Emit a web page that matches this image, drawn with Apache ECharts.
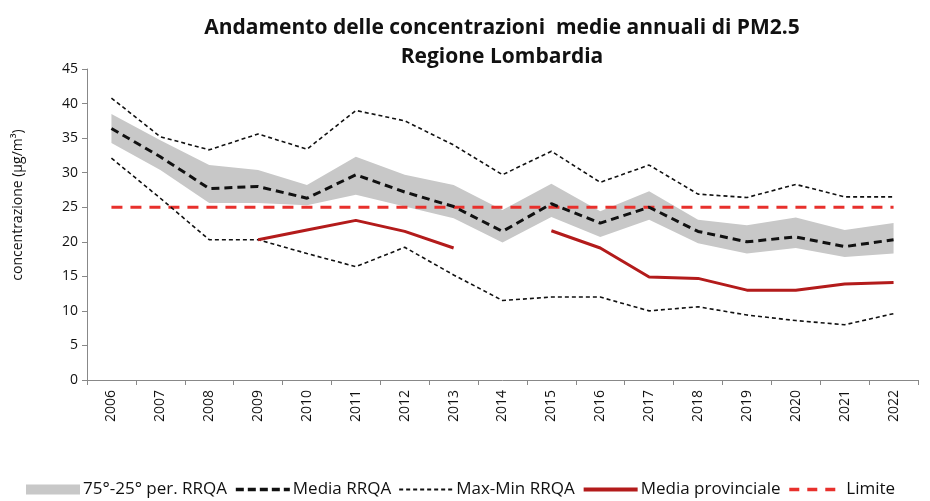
<!DOCTYPE html>
<html>
<head>
<meta charset="utf-8">
<script src="https://cdn.jsdelivr.net/npm/echarts@6/dist/echarts.min.js"></script>
<style>
  html, body { margin: 0; padding: 0; background: #fff; }
  #chart { width: 930px; height: 501px; }
</style>
</head>
<body>
<div id="chart"></div>
<script>
var years = ['2006','2007','2008','2009','2010','2011','2012','2013','2014','2015','2016','2017','2018','2019','2020','2021','2022'];
var p25 = [34.3, 30.4, 25.6, 25.6, 25.3, 26.8, 25.1, 23.4, 19.9, 23.6, 20.7, 23.2, 19.8, 18.3, 19.1, 17.8, 18.3];
var p75 = [38.5, 34.7, 31.1, 30.4, 28.2, 32.3, 29.7, 28.2, 24.6, 28.4, 24.4, 27.3, 23.2, 22.4, 23.5, 21.7, 22.7];
var mediaRRQA = [36.4, 32.3, 27.7, 28.0, 26.3, 29.7, 27.2, 25.1, 21.5, 25.5, 22.7, 25.0, 21.5, 20.0, 20.7, 19.3, 20.3];
var maxRRQA = [40.8, 35.2, 33.3, 35.6, 33.4, 39.0, 37.5, 34.0, 29.7, 33.1, 28.6, 31.1, 26.9, 26.4, 28.3, 26.5, 26.5];
var minRRQA = [32.1, 26.3, 20.3, 20.3, 18.3, 16.4, 19.2, 15.2, 11.5, 12.0, 12.0, 10.0, 10.6, 9.4, 8.6, 8.0, 9.6];
var mediaProv = [null, null, null, 20.3, 21.7, 23.1, 21.5, 19.1, null, 21.6, 19.1, 14.9, 14.7, 13.0, 13.0, 13.9, 14.1];
var limite = [25, 25, 25, 25, 25, 25, 25, 25, 25, 25, 25, 25, 25, 25, 25, 25, 25];

var font = 'Open Sans';
var chart = echarts.init(document.getElementById('chart'));
var bandDelta = p75.map(function (v, i) { return +(v - p25[i]).toFixed(2); });
var noSymbol = { opacity: 0 };

var option = {
  animation: false,
  textStyle: { fontFamily: font },
  title: {
    text: 'Andamento delle concentrazioni  medie annuali di PM2.5\nRegione Lombardia',
    left: 497,
    textAlign: 'center',
    top: 9,
    textStyle: { fontSize: 21, fontWeight: 'bold', color: '#111', lineHeight: 29, fontFamily: font }
  },
  graphic: [{
    type: 'text',
    x: 18, y: 205,
    rotation: Math.PI / 2,
    style: {
      text: 'concentrazione (µg/m³)',
      fontFamily: font, fontSize: 14, fill: '#111',
      align: 'center', verticalAlign: 'middle'
    }
  }],
  legend: {
    top: 481,
    left: 26,
    width: 904,
    padding: 0,
    itemGap: 7,
    itemWidth: 54,
    itemHeight: 10,
    textStyle: { fontSize: 17, color: '#111', fontFamily: font, padding: [0, 0, 0, -2] },
    data: [
      { name: '75°-25° per. RRQA', icon: 'rect' },
      { name: 'Media RRQA', itemStyle: noSymbol, lineStyle: { width: 3.5, type: [8, 4] } },
      { name: 'Max-Min RRQA', itemStyle: noSymbol, lineStyle: { width: 2, type: [4, 3] } },
      { name: 'Media provinciale', itemStyle: noSymbol, lineStyle: { width: 4 } },
      { name: 'Limite', itemStyle: noSymbol, lineStyle: { width: 3.5, type: [10, 8] } }
    ]
  },
  grid: { left: 87, right: 12, top: 69, bottom: 121 },
  xAxis: {
    type: 'category',
    data: years,
    boundaryGap: true,
    axisLine: { lineStyle: { color: '#888' } },
    axisTick: { show: true, lineStyle: { color: '#888' }, length: 5 },
    axisLabel: { rotate: 90, fontSize: 14, color: '#111', margin: 10 }
  },
  yAxis: {
    type: 'value',
    min: 0, max: 45, interval: 5,
    splitLine: { show: false },
    axisLine: { show: true, lineStyle: { color: '#888' } },
    axisTick: { show: true, inside: false, length: 5, lineStyle: { color: '#888' } },
    axisLabel: { fontSize: 14, color: '#111', margin: 9 }
  },
  series: [
    {
      name: 'base', type: 'line', stack: 'band', data: p25,
      symbol: 'none', lineStyle: { opacity: 0 }, silent: true
    },
    {
      name: '75°-25° per. RRQA', type: 'line', stack: 'band', data: bandDelta,
      symbol: 'none', lineStyle: { opacity: 0 },
      itemStyle: { color: '#c8c8c8' },
      areaStyle: { color: '#c8c8c8', opacity: 1 }
    },
    {
      name: 'Limite', type: 'line', data: limite, symbol: 'none',
      itemStyle: { color: '#e8302c' },
      lineStyle: { color: '#e8302c', width: 3, type: [11, 8] }
    },
    {
      name: 'Max-Min RRQA', type: 'line', data: maxRRQA, symbol: 'none',
      itemStyle: { color: '#111' },
      lineStyle: { color: '#111', width: 1.6, type: [4, 3] }
    },
    {
      name: 'Max-Min RRQA', type: 'line', data: minRRQA, symbol: 'none',
      itemStyle: { color: '#111' },
      lineStyle: { color: '#111', width: 1.6, type: [4, 3] }
    },
    {
      name: 'Media RRQA', type: 'line', data: mediaRRQA, symbol: 'none',
      itemStyle: { color: '#111' },
      lineStyle: { color: '#111', width: 3, type: [8, 5] }
    },
    {
      name: 'Media provinciale', type: 'line', data: mediaProv, symbol: 'none',
      connectNulls: false,
      itemStyle: { color: '#b31b1b' },
      lineStyle: { color: '#b31b1b', width: 3 }
    }
  ]
};
chart.setOption(option);
</script>
</body>
</html>
